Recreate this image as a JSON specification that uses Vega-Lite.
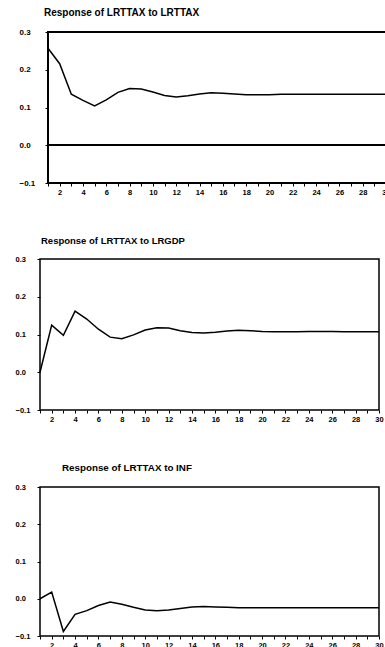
{
  "$schema": "https://vega.github.io/schema/vega-lite/v6.json",
  "padding": {"left": 14, "top": 8, "right": 0, "bottom": 0},
  "background": "white",
  "config": {
    "font": "Liberation Sans",
    "view": {"stroke": "black", "strokeWidth": 1.5},
    "axis": {"grid": false, "domain": false, "labelFont": "Liberation Sans", "labelFontWeight": "bold", "labelFontSize": 7.5, "labelColor": "black", "tickColor": "black", "tickSize": 3, "tickWidth": 1},
    "title": {"font": "Liberation Sans", "fontWeight": "bold", "color": "black", "anchor": "start", "frame": "group", "offset": 10}
  },
  "datasets": {
    "irf": [
      {"h": 1, "v": 0.257, "impulse": "LRTTAX"}, {"h": 2, "v": 0.216, "impulse": "LRTTAX"}, {"h": 3, "v": 0.135, "impulse": "LRTTAX"}, {"h": 4, "v": 0.119, "impulse": "LRTTAX"}, {"h": 5, "v": 0.104, "impulse": "LRTTAX"}, {"h": 6, "v": 0.120, "impulse": "LRTTAX"}, {"h": 7, "v": 0.140, "impulse": "LRTTAX"}, {"h": 8, "v": 0.150, "impulse": "LRTTAX"}, {"h": 9, "v": 0.149, "impulse": "LRTTAX"}, {"h": 10, "v": 0.141, "impulse": "LRTTAX"},
      {"h": 11, "v": 0.132, "impulse": "LRTTAX"}, {"h": 12, "v": 0.128, "impulse": "LRTTAX"}, {"h": 13, "v": 0.131, "impulse": "LRTTAX"}, {"h": 14, "v": 0.136, "impulse": "LRTTAX"}, {"h": 15, "v": 0.139, "impulse": "LRTTAX"}, {"h": 16, "v": 0.138, "impulse": "LRTTAX"}, {"h": 17, "v": 0.136, "impulse": "LRTTAX"}, {"h": 18, "v": 0.134, "impulse": "LRTTAX"}, {"h": 19, "v": 0.134, "impulse": "LRTTAX"}, {"h": 20, "v": 0.134, "impulse": "LRTTAX"},
      {"h": 21, "v": 0.135, "impulse": "LRTTAX"}, {"h": 22, "v": 0.135, "impulse": "LRTTAX"}, {"h": 23, "v": 0.135, "impulse": "LRTTAX"}, {"h": 24, "v": 0.135, "impulse": "LRTTAX"}, {"h": 25, "v": 0.135, "impulse": "LRTTAX"}, {"h": 26, "v": 0.135, "impulse": "LRTTAX"}, {"h": 27, "v": 0.135, "impulse": "LRTTAX"}, {"h": 28, "v": 0.135, "impulse": "LRTTAX"}, {"h": 29, "v": 0.135, "impulse": "LRTTAX"}, {"h": 30, "v": 0.135, "impulse": "LRTTAX"},
      {"h": 1, "v": 0.0, "impulse": "LRGDP"}, {"h": 2, "v": 0.125, "impulse": "LRGDP"}, {"h": 3, "v": 0.098, "impulse": "LRGDP"}, {"h": 4, "v": 0.162, "impulse": "LRGDP"}, {"h": 5, "v": 0.141, "impulse": "LRGDP"}, {"h": 6, "v": 0.114, "impulse": "LRGDP"}, {"h": 7, "v": 0.093, "impulse": "LRGDP"}, {"h": 8, "v": 0.089, "impulse": "LRGDP"}, {"h": 9, "v": 0.099, "impulse": "LRGDP"}, {"h": 10, "v": 0.112, "impulse": "LRGDP"},
      {"h": 11, "v": 0.118, "impulse": "LRGDP"}, {"h": 12, "v": 0.117, "impulse": "LRGDP"}, {"h": 13, "v": 0.110, "impulse": "LRGDP"}, {"h": 14, "v": 0.105, "impulse": "LRGDP"}, {"h": 15, "v": 0.104, "impulse": "LRGDP"}, {"h": 16, "v": 0.106, "impulse": "LRGDP"}, {"h": 17, "v": 0.109, "impulse": "LRGDP"}, {"h": 18, "v": 0.111, "impulse": "LRGDP"}, {"h": 19, "v": 0.110, "impulse": "LRGDP"}, {"h": 20, "v": 0.108, "impulse": "LRGDP"},
      {"h": 21, "v": 0.107, "impulse": "LRGDP"}, {"h": 22, "v": 0.107, "impulse": "LRGDP"}, {"h": 23, "v": 0.107, "impulse": "LRGDP"}, {"h": 24, "v": 0.108, "impulse": "LRGDP"}, {"h": 25, "v": 0.108, "impulse": "LRGDP"}, {"h": 26, "v": 0.108, "impulse": "LRGDP"}, {"h": 27, "v": 0.107, "impulse": "LRGDP"}, {"h": 28, "v": 0.107, "impulse": "LRGDP"}, {"h": 29, "v": 0.107, "impulse": "LRGDP"}, {"h": 30, "v": 0.107, "impulse": "LRGDP"},
      {"h": 1, "v": 0.0, "impulse": "INF"}, {"h": 2, "v": 0.018, "impulse": "INF"}, {"h": 3, "v": -0.088, "impulse": "INF"}, {"h": 4, "v": -0.042, "impulse": "INF"}, {"h": 5, "v": -0.032, "impulse": "INF"}, {"h": 6, "v": -0.018, "impulse": "INF"}, {"h": 7, "v": -0.009, "impulse": "INF"}, {"h": 8, "v": -0.015, "impulse": "INF"}, {"h": 9, "v": -0.023, "impulse": "INF"}, {"h": 10, "v": -0.030, "impulse": "INF"},
      {"h": 11, "v": -0.032, "impulse": "INF"}, {"h": 12, "v": -0.030, "impulse": "INF"}, {"h": 13, "v": -0.026, "impulse": "INF"}, {"h": 14, "v": -0.022, "impulse": "INF"}, {"h": 15, "v": -0.021, "impulse": "INF"}, {"h": 16, "v": -0.022, "impulse": "INF"}, {"h": 17, "v": -0.023, "impulse": "INF"}, {"h": 18, "v": -0.024, "impulse": "INF"}, {"h": 19, "v": -0.024, "impulse": "INF"}, {"h": 20, "v": -0.024, "impulse": "INF"},
      {"h": 21, "v": -0.024, "impulse": "INF"}, {"h": 22, "v": -0.024, "impulse": "INF"}, {"h": 23, "v": -0.024, "impulse": "INF"}, {"h": 24, "v": -0.024, "impulse": "INF"}, {"h": 25, "v": -0.024, "impulse": "INF"}, {"h": 26, "v": -0.024, "impulse": "INF"}, {"h": 27, "v": -0.024, "impulse": "INF"}, {"h": 28, "v": -0.024, "impulse": "INF"}, {"h": 29, "v": -0.024, "impulse": "INF"}, {"h": 30, "v": -0.024, "impulse": "INF"}
    ]
  },
  "vconcat": [
    {
      "title": {"text": "Response of LRTTAX to LRTTAX", "fontSize": 10, "dx": 4},
      "width": 346,
      "height": 151,
      "view": {"stroke": null},
      "data": {"name": "irf"},
      "transform": [{"filter": "datum.impulse === 'LRTTAX'"}],
      "encoding": {
        "x": {"field": "h", "type": "quantitative", "title": null,
              "scale": {"domain": [1, 30], "range": [8, 346], "nice": false, "zero": false},
              "axis": {"values": [1,2,3,4,5,6,7,8,9,10,11,12,13,14,15,16,17,18,19,20,21,22,23,24,25,26,27,28,29,30], "labelExpr": "datum.value % 2 === 0 ? datum.label : ''", "labelPadding": 2, "labelFlush": false}},
        "y": {"field": "v", "type": "quantitative", "title": null,
              "scale": {"domain": [-0.1, 0.3], "nice": false, "zero": false},
              "axis": {"values": [-0.1, 0, 0.1, 0.2, 0.3], "format": ".1f", "labelAlign": "left", "labelPadding": 26, "offset": -8, "labelFontSize": 8}}
      },
      "layer": [
        {"mark": {"type": "rect", "fill": null, "fillOpacity": 0, "stroke": "black", "strokeWidth": 1.5},
         "encoding": {"x": {"datum": 1}, "x2": {"datum": 30}, "y": {"datum": 0.3}, "y2": {"datum": -0.1}}},
        {"mark": {"type": "rule", "color": "black", "strokeWidth": 1},
         "encoding": {"x": {"datum": 1}, "x2": {"datum": 30}, "y": {"datum": 0}}},
        {"mark": {"type": "line", "color": "black", "strokeWidth": 1.5}}
      ]
    },
    {
      "title": {"text": "Response of LRTTAX to LRGDP", "fontSize": 9.5, "dx": 1},
      "width": 339,
      "height": 151,
      "data": {"name": "irf"},
      "transform": [{"filter": "datum.impulse === 'LRGDP'"}],
      "encoding": {
        "x": {"field": "h", "type": "quantitative", "title": null,
              "scale": {"domain": [1, 30], "nice": false, "zero": false},
              "axis": {"values": [1,2,3,4,5,6,7,8,9,10,11,12,13,14,15,16,17,18,19,20,21,22,23,24,25,26,27,28,29,30], "labelExpr": "datum.value % 2 === 0 ? datum.label : ''", "labelPadding": 2, "labelFlush": false}},
        "y": {"field": "v", "type": "quantitative", "title": null,
              "scale": {"domain": [-0.1, 0.3], "nice": false, "zero": false},
              "axis": {"values": [-0.1, 0, 0.1, 0.2, 0.3], "format": ".1f", "labelAlign": "left", "labelPadding": 22}}
      },
      "layer": [
        {"mark": {"type": "rule", "color": "black", "strokeWidth": 1},
         "encoding": {"y": {"datum": 0}}},
        {"mark": {"type": "line", "color": "black", "strokeWidth": 1.5}}
      ]
    },
    {
      "title": {"text": "Response of LRTTAX to INF", "fontSize": 9.8, "dx": 22},
      "width": 339,
      "height": 149,
      "data": {"name": "irf"},
      "transform": [{"filter": "datum.impulse === 'INF'"}],
      "encoding": {
        "x": {"field": "h", "type": "quantitative", "title": null,
              "scale": {"domain": [1, 30], "nice": false, "zero": false},
              "axis": {"values": [1,2,3,4,5,6,7,8,9,10,11,12,13,14,15,16,17,18,19,20,21,22,23,24,25,26,27,28,29,30], "labelExpr": "datum.value % 2 === 0 ? datum.label : ''", "labelPadding": 2, "labelFlush": false}},
        "y": {"field": "v", "type": "quantitative", "title": null,
              "scale": {"domain": [-0.1, 0.3], "nice": false, "zero": false},
              "axis": {"values": [-0.1, 0, 0.1, 0.2, 0.3], "format": ".1f", "labelAlign": "left", "labelPadding": 22}}
      },
      "layer": [
        {"mark": {"type": "rule", "color": "#444444", "strokeWidth": 1},
         "encoding": {"y": {"datum": 0}}},
        {"mark": {"type": "line", "color": "black", "strokeWidth": 1.5}}
      ]
    }
  ],
  "spacing": 38
}
